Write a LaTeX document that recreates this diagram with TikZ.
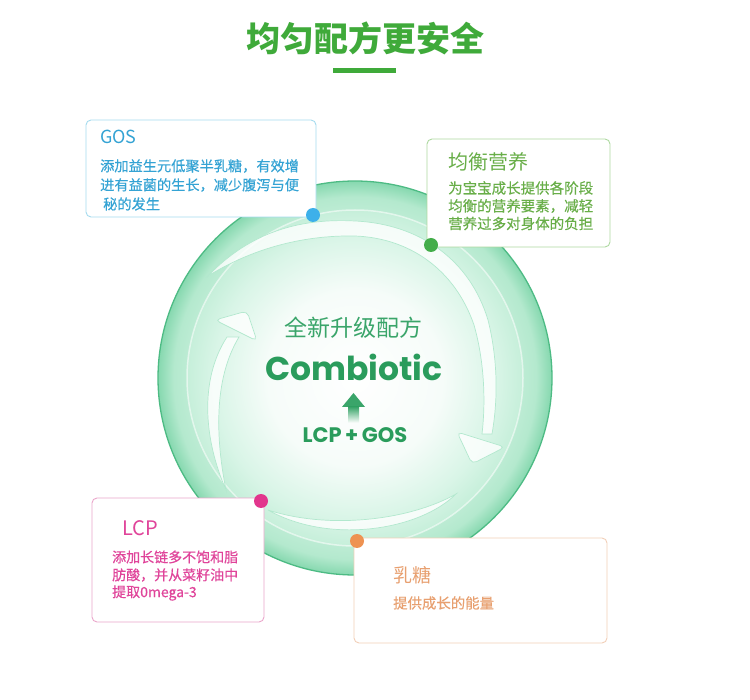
\documentclass[tikz,border=0pt]{standalone}
\usepackage{fontspec}
\setmainfont{Noto Sans CJK SC}
\newfontfamily\cjkmed[FakeBold=0.35]{Noto Sans CJK SC}
\newfontfamily\pop{Poppins}
\definecolor{tgreen}{HTML}{3FAA3A}
\definecolor{cgreen}{HTML}{2A9C5C}
\definecolor{lgreen}{HTML}{3AA56A}
\definecolor{gosblue}{HTML}{34A3D4}
\definecolor{gosline}{HTML}{A5DBEF}
\definecolor{gosdot}{HTML}{3DB0EA}
\definecolor{nutgreen}{HTML}{68AE48}
\definecolor{nutline}{HTML}{AED9A0}
\definecolor{nutdot}{HTML}{43AD4A}
\definecolor{lcppink}{HTML}{E0449A}
\definecolor{lcpline}{HTML}{EBA6CB}
\definecolor{lcpdot}{HTML}{E2368D}
\definecolor{lacor}{HTML}{E8A070}
\definecolor{lacline}{HTML}{F2CFB8}
\definecolor{lacdot}{HTML}{EE9252}
\definecolor{diskA}{HTML}{E2F7EC}
\definecolor{diskB}{HTML}{CDF1DF}
\definecolor{diskC}{HTML}{B4E9CE}
\definecolor{diskD}{HTML}{86D8AF}
\definecolor{inA}{HTML}{FFFFFF}
\definecolor{inB}{HTML}{F6FCF9}
\definecolor{inC}{HTML}{D9F5E7}
\definecolor{inD}{HTML}{C6EFDA}
\definecolor{rimline}{HTML}{4DBB84}
\definecolor{swline}{HTML}{B2E8CE}
\pgfdeclareradialshading{outerdisk}{\pgfpoint{0bp}{0bp}}{color(0bp)=(diskA); color(18bp)=(diskB); color(23bp)=(diskC); color(25bp)=(diskD); color(50bp)=(diskD)}
\pgfdeclareradialshading{innerdisk}{\pgfpoint{0bp}{0bp}}{color(0bp)=(inA); color(13bp)=(inB); color(21bp)=(inC); color(25bp)=(inD); color(50bp)=(inD)}
\tikzset{
  infobox/.style={draw=#1, line width=0.9pt, fill=white, rounded corners=5pt, inner sep=0pt},
  ln/.style={anchor=west, inner sep=0pt, text=#1},
  dotmark/.style={circle, fill=#1, inner sep=0pt, minimum size=14pt},
  swoosh/.style={fill=white, fill opacity=0.8, draw=swline, line width=0.7pt}
}
\begin{document}
\begin{tikzpicture}[x=1pt,y=-1pt]
\useasboundingbox (0,0) rectangle (750,700);
\fill[white] (0,0) rectangle (750,700);
% title
\node[inner sep=0pt, text=tgreen, font=\fontsize{34}{34}\selectfont\bfseries] (title) at (365,38) {均匀配方更安全};
\fill[tgreen] (333,68) rectangle (396,73);
% circle
\coordinate (cc) at (355,378);
\shade[shading=outerdisk] (cc) circle (197);
\draw[rimline, line width=1.3pt] (cc) circle (197);
\shade[shading=innerdisk] (cc) circle (168);
\draw[white, opacity=0.55, line width=1.5pt] (cc) circle (168);
% top swoosh
\draw[swoosh] (208,276) .. controls (250,232) and (300,218) .. (355,221)
  .. controls (420,224) and (470,260) .. (488,320)
  .. controls (498,360) and (498,400) .. (492,434)
  -- (482,434) .. controls (486,400) and (484,360) .. (474,325)
  .. controls (455,270) and (410,238) .. (355,236)
  .. controls (300,235) and (250,250) .. (208,276) -- cycle;
\draw[swoosh, rounded corners=5pt] (457,432) -- (505,447) -- (472,464) -- cycle;
% left swoosh
\draw[swoosh] (226,490) .. controls (204,440) and (199,380) .. (227,337)
  -- (239,337) .. controls (213,380) and (216,440) .. (226,490) -- cycle;
\draw[swoosh, rounded corners=5pt] (215,320) -- (247,311) -- (257,341) -- cycle;
% bottom swoosh
\draw[swoosh] (456,494) .. controls (420,530) and (330,545) .. (268,510)
  .. controls (330,530) and (410,520) .. (456,494) -- cycle;
% center texts
\node[inner sep=0pt, text=lgreen, font=\fontsize{23}{23}\selectfont] (newf) at (353,328) {全新升级配方};
\node[inner sep=0pt, text=cgreen, font=\pop\fontsize{33}{33}\selectfont\bfseries] (comb) at (354,367) {Combiotic};
\fill[lgreen] (342,407) -- (365,407) -- (353.5,393) -- cycle;
\shade[top color=lgreen, bottom color=white] (348,407) rectangle (359,423);
\node[inner sep=0pt, text=cgreen, font=\pop\fontsize{21}{21}\selectfont\bfseries] (lcpgos) at (355,435) {LCP\,+\,GOS};
% GOS box
\node[infobox=gosline, minimum width=230pt, minimum height=97pt] (gosbox) at (201,168.5) {};
\node[ln=gosblue, font=\fontsize{18}{18}\selectfont] (gost) at (100,137) {GOS};
\node[ln=gosblue, font=\cjkmed\fontsize{14.2}{14.2}\selectfont] (gos1) at (100,166) {添加益生元低聚半乳糖，有效增};
\node[ln=gosblue, font=\cjkmed\fontsize{14.2}{14.2}\selectfont] (gos2) at (100,185) {进有益菌的生长，减少腹泻与便};
\node[ln=gosblue, font=\cjkmed\fontsize{14.2}{14.2}\selectfont] (gos3) at (103,204) {秘的发生};
% nutrition box
\node[infobox=nutline, minimum width=183pt, minimum height=108pt] (nutbox) at (518.5,193) {};
\node[ln=nutgreen, font=\fontsize{20}{20}\selectfont] (nutt) at (448,162) {均衡营养};
\node[ln=nutgreen, font=\cjkmed\fontsize{14.5}{14.5}\selectfont] (nut1) at (448,188) {为宝宝成长提供各阶段};
\node[ln=nutgreen, font=\cjkmed\fontsize{14.5}{14.5}\selectfont] (nut2) at (448,206) {均衡的营养要素，减轻};
\node[ln=nutgreen, font=\cjkmed\fontsize{14.5}{14.5}\selectfont] (nut3) at (448,223.5) {营养过多对身体的负担};
% LCP box
\node[infobox=lcpline, minimum width=172pt, minimum height=124pt] (lcpbox) at (178,560) {};
\node[ln=lcppink, font=\fontsize{20}{20}\selectfont] (lcpt) at (122,528) {LCP};
\node[ln=lcppink, font=\cjkmed\fontsize{14}{14}\selectfont] (lcp1) at (112,557) {添加长链多不饱和脂};
\node[ln=lcppink, font=\cjkmed\fontsize{14}{14}\selectfont] (lcp2) at (112,575) {肪酸，并从菜籽油中};
\node[ln=lcppink, font=\cjkmed\fontsize{14}{14}\selectfont] (lcp3) at (112,593) {提取0mega-3};
% lactose box
\node[infobox=lacline, minimum width=253pt, minimum height=105pt] (lacbox) at (480.5,590.5) {};
\node[ln=lacor, font=\fontsize{19}{19}\selectfont] (lact) at (393,575) {乳糖};
\node[ln=lacor, font=\cjkmed\fontsize{14.4}{14.4}\selectfont] (lac1) at (393,603) {提供成长的能量};
% dots
\node[dotmark=gosdot] (d1) at (313,215) {};
\node[dotmark=nutdot] (d2) at (431,245) {};
\node[dotmark=lcpdot] (d3) at (261,501) {};
\node[dotmark=lacdot] (d4) at (357,541) {};
\end{tikzpicture}
\end{document}
